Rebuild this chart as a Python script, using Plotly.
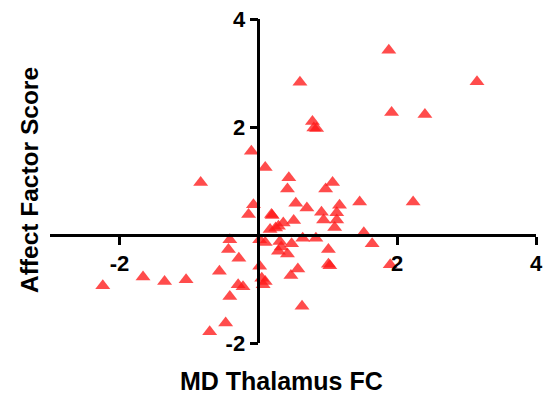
import plotly.graph_objects as go

# Data
md_thalamus_fc = [
    1.88, 3.15, 0.60, 1.92, 2.40, 0.78, 0.80, 0.84, -0.10, 0.10,
    -0.83, 0.44, 0.42, 1.07, 0.97, 0.54, 0.70, 1.46, 2.23, 1.17,
    0.91, 0.94, 1.13, 1.13, 1.10, 0.51, 0.20, 0.36, 0.29, 0.17,
    0.25, -0.07, -0.14, 0.19, 1.52, 1.64, 0.64, 0.83, 0.48, 0.31,
    0.33, 0.10, 0.02, 0.29, 0.42, 1.01, 1.01, 1.03, 1.90, 0.57,
    0.47, 0.63, 0.02, 0.05, 0.10, 0.07, -0.41, -0.43, -0.28, -0.56,
    -0.29, -0.22, -0.41, -2.24, -1.66, -1.35, -1.04, -0.47, -0.70,
]
affect_factor_score = [
    3.42, 2.84, 2.83, 2.27, 2.23, 2.10, 1.98, 1.97, 1.55, 1.25,
    0.97, 1.06, 0.85, 0.97, 0.85, 0.59, 0.50, 0.61, 0.61, 0.55,
    0.42, 0.28, 0.41, 0.28, 0.14, 0.27, 0.36, 0.22, 0.16, 0.10,
    0.13, 0.56, 0.38, 0.38, 0.04, -0.16, -0.06, -0.06, -0.16, -0.12,
    -0.22, -0.14, -0.09, -0.30, -0.35, -0.27, -0.54, -0.57, -0.55, -0.63,
    -0.75, -1.32, -0.58, -0.80, -0.86, -0.92, -0.09, -0.27, -0.43, -0.67,
    -0.92, -0.96, -1.14, -0.94, -0.78, -0.86, -0.83, -1.63, -1.79,
]
x_tick_vals = [-2, 2, 4]
y_tick_vals = [-2, 2, 4]
x_range = [-3, 4]
y_range = [-2, 4]

FONT = "Liberation Sans, Arial, sans-serif"

W, H = 544, 396
ml, mr, mt, mb = 50, 8, 19, 53
pw, ph = W - ml - mr, H - mt - mb


def px_to_paper(x, y):
    return (x - ml) / pw, 1 - (y - mt) / ph


fig = go.Figure(
    go.Scatter(
        x=md_thalamus_fc,
        y=affect_factor_score,
        mode="markers",
        marker=dict(symbol="triangle-up", size=13, color="rgba(255,25,25,0.78)",
                    line=dict(width=0)),
        cliponaxis=False,
    )
)

x_pos = (0 - y_range[0]) / (y_range[1] - y_range[0])
y_pos = (0 - x_range[0]) / (x_range[1] - x_range[0])

axis_common = dict(
    showgrid=False, zeroline=False, showline=True, linecolor="black", linewidth=2.5,
    ticks="outside", ticklen=8, tickwidth=2.5, tickcolor="black",
    tickfont=dict(family=FONT, size=22, color="black", weight="bold"),
    anchor="free", automargin=False,
)

xt_x, xt_y = px_to_paper(281, 381)
yt_x, yt_y = px_to_paper(29, 180)

fig.update_layout(
    width=W,
    height=H,
    margin=dict(l=ml, r=mr, t=mt, b=mb, autoexpand=False),
    plot_bgcolor="white",
    paper_bgcolor="white",
    showlegend=False,
    font=dict(family=FONT, color="black"),
    xaxis=dict(range=x_range, tickvals=x_tick_vals, ticktext=[str(v) for v in x_tick_vals],
               position=x_pos, **axis_common),
    yaxis=dict(range=y_range, tickvals=y_tick_vals, ticktext=[str(v) for v in y_tick_vals],
               position=y_pos, **axis_common),
    annotations=[
        dict(text="<b>MD Thalamus FC</b>", x=xt_x, y=xt_y, xref="paper", yref="paper",
             xanchor="center", yanchor="middle", showarrow=False,
             font=dict(family=FONT, size=25, color="black")),
        dict(text="<b>Affect Factor Score</b>", x=yt_x, y=yt_y, xref="paper", yref="paper",
             xanchor="center", yanchor="middle", showarrow=False, textangle=-90,
             font=dict(family=FONT, size=24.5, color="black")),
    ],
)

fig.write_html("out.html", config={"displayModeBar": False},
               post_script="document.body.style.margin='0';")
